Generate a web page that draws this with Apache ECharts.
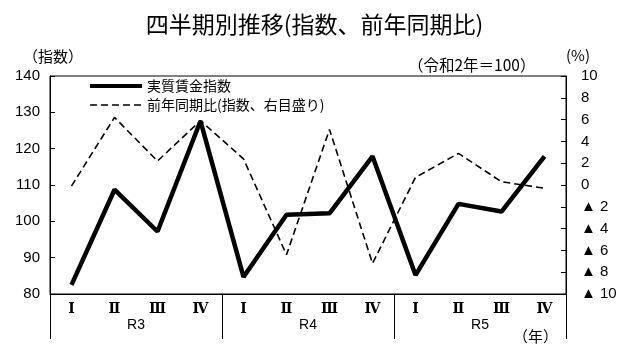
<!DOCTYPE html>
<html><head><meta charset="utf-8">
<script src="https://cdn.jsdelivr.net/npm/echarts@6/dist/echarts.min.js"></script>
<style>html,body{margin:0;padding:0;background:#fff}#c{width:629px;height:345px}</style>
</head><body><div id="c"></div>
<script>
var quarters = ['Ⅰ','Ⅱ','Ⅲ','Ⅳ','Ⅰ','Ⅱ','Ⅲ','Ⅳ','Ⅰ','Ⅱ','Ⅲ','Ⅳ'];
var years = ['R3','R4','R5'];
var realWageIndex = [82.5, 108.7, 97.2, 127.6, 84.7, 101.8, 102.2, 117.9, 85.2, 104.8, 102.7, 117.9];
var yoyChange = [-0.1, 6.2, 2.2, 5.9, 2.4, -6.4, 5.1, -7.2, 0.7, 2.9, 0.3, -0.3];
var leftTicks = {min: 80, max: 140, interval: 10};
var rightTicks = {min: -10, max: 10, interval: 2};

var jp = '"Noto Sans CJK JP", sans-serif';
var num = '"Liberation Sans", Arial, sans-serif';
var chart = echarts.init(document.getElementById('c'));
chart.setOption({
  animation: false,
  title: [
    {text: '四半期別推移(指数、前年同期比)', left: 'center', top: 8,
     textStyle: {fontFamily: jp, fontSize: 23, fontWeight: 'normal', color: '#000'}},
    {text: '（指数）', left: 18, top: 44, textStyle: {fontFamily: jp, fontSize: 15, fontWeight: 'normal', color: '#000'}},
    {text: '（令和2年＝100）', left: 403, top: 52, textStyle: {fontFamily: jp, fontSize: 15.5, fontWeight: 'normal', color: '#000'}},
    {text: '(%)', left: 561, top: 43, textStyle: {fontFamily: jp, fontSize: 15, fontWeight: 'normal', color: '#000'}},
    {text: '（年）', left: 508, top: 324, textStyle: {fontFamily: jp, fontSize: 15, fontWeight: 'normal', color: '#000'}}
  ],
  grid: {left: 50, right: 63, top: 76, bottom: 51, show: true, borderColor: '#000', borderWidth: 1, backgroundColor: 'transparent'},
  legend: {
    orient: 'vertical', left: 83, top: 74, itemGap: 5, itemWidth: 52, itemHeight: 14,
    textStyle: {fontFamily: jp, fontSize: 14, color: '#000'},
    itemStyle: {color: 'rgba(0,0,0,0)', borderWidth: 0, opacity: 0},
    data: [
      {name: '実質賃金指数', lineStyle: {width: 4, color: '#000'}},
      {name: '前年同期比(指数、右目盛り)', lineStyle: {width: 1.6, color: '#000', type: [7, 4]}}
    ]
  },
  xAxis: [
    {type: 'category', data: quarters, boundaryGap: true, position: 'bottom',
     axisLine: {onZero: false, lineStyle: {color: '#000', width: 1}}, axisTick: {show: false},
     axisLabel: {color: '#000', fontFamily: '"DejaVu Serif", "Liberation Serif", serif', fontWeight: 'bold', fontSize: 14, margin: 8, interval: 0}},
    {type: 'category', data: years, boundaryGap: true, position: 'bottom', offset: 0,
     axisLine: {show: false, onZero: false},
     axisTick: {show: true, length: 45, lineStyle: {color: '#000', width: 1}},
     axisLabel: {color: '#000', fontFamily: num, fontSize: 14, margin: 24}}
  ],
  yAxis: [
    {type: 'value', min: leftTicks.min, max: leftTicks.max, interval: leftTicks.interval, position: 'left',
     splitLine: {show: false}, axisLine: {show: true, onZero: false, lineStyle: {color: '#000'}},
     axisTick: {show: true, inside: true, length: 5, lineStyle: {color: '#000'}},
     axisLabel: {color: '#000', fontFamily: num, fontSize: 15, margin: 10}},
    {type: 'value', min: rightTicks.min, max: rightTicks.max, interval: rightTicks.interval, position: 'right',
     splitLine: {show: false}, axisLine: {show: true, onZero: false, lineStyle: {color: '#000'}},
     axisTick: {show: true, inside: true, length: 5, lineStyle: {color: '#000'}},
     axisLabel: {color: '#000', fontFamily: num, fontSize: 15, margin: 15,
       formatter: function (v) { return v < 0 ? '▲ ' + (-v) : String(v); }}}
  ],
  series: [
    {name: '実質賃金指数', type: 'line', data: realWageIndex, xAxisIndex: 0, yAxisIndex: 0,
     symbol: 'none', lineStyle: {color: '#000', width: 4.5}, itemStyle: {color: '#000'}, z: 3},
    {name: '前年同期比(指数、右目盛り)', type: 'line', data: yoyChange, xAxisIndex: 0, yAxisIndex: 1,
     symbol: 'none', lineStyle: {color: '#000', width: 1.6, type: [7, 4]}, itemStyle: {color: '#000'}, z: 2}
  ]
});
</script></body></html>
